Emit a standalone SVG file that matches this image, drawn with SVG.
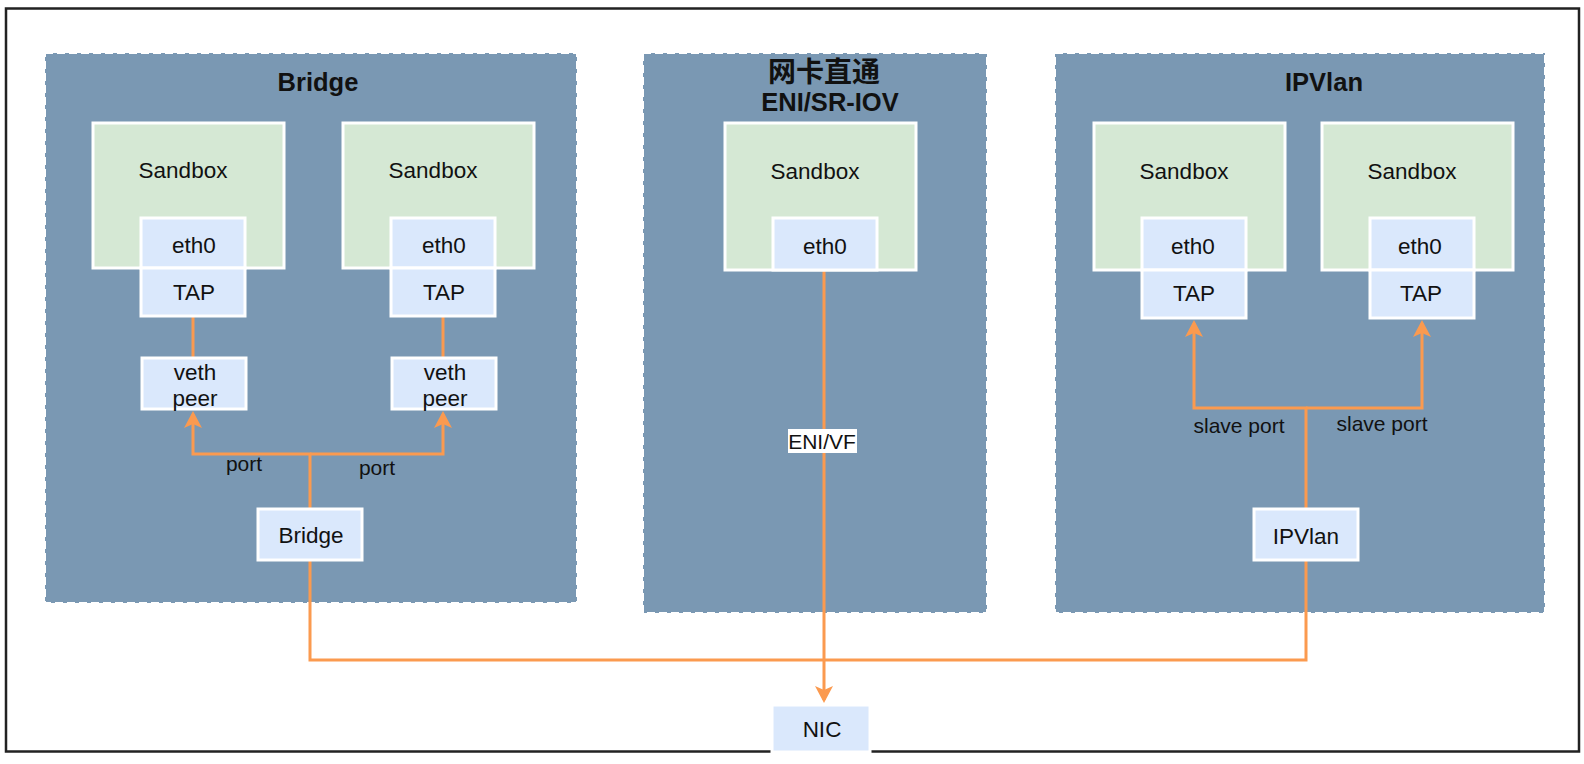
<svg xmlns="http://www.w3.org/2000/svg" width="1584" height="764" viewBox="0 0 1584 764">
<defs>
<style>
.cont{fill:#7a98b3;stroke:#ffffff;stroke-width:2;stroke-dasharray:8 4}
.sb{fill:#d5e8d4;stroke:#ffffff;stroke-width:3}
.bx{fill:#dae8fc;stroke:#ffffff;stroke-width:3}
.t{font-family:"Liberation Sans",Arial,sans-serif;font-size:22.5px;fill:#111;text-anchor:middle;dominant-baseline:central}
.tt{font-family:"Liberation Sans","Noto Sans CJK SC",sans-serif;font-size:25.5px;font-weight:bold;fill:#111;text-anchor:middle;dominant-baseline:central}
.lb{font-family:"Liberation Sans",Arial,sans-serif;font-size:21px;fill:#111;text-anchor:middle;dominant-baseline:central}
.ln{fill:none;stroke:#fb9a4f;stroke-width:3}
</style>
<marker id="ah" viewBox="0 0 18 18" refX="14" refY="9" markerWidth="18" markerHeight="18" orient="auto" markerUnits="userSpaceOnUse">
<path d="M0,0 L17,9 L0,18 L4,9 Z" fill="#fb9a4f"/>
</marker>
</defs>
<rect x="0" y="0" width="1584" height="764" fill="#ffffff"/>
<rect x="6" y="8.5" width="1573" height="743" fill="none" stroke="#222" stroke-width="2.5"/>

<g id="bridge-group">
<rect class="cont" x="45" y="53" width="532" height="550"/>
<text class="tt" x="318" y="82">Bridge</text>
</g>
<g id="eni-group">
<rect class="cont" x="643" y="53" width="344" height="560"/>
<text class="tt" x="824" y="72" style="font-size:28px">网卡直通</text>
<text class="tt" x="830" y="102">ENI/SR-IOV</text>
</g>
<g id="ipvlan-group">
<rect class="cont" x="1055" y="53" width="490" height="560"/>
<text class="tt" x="1324" y="82">IPVlan</text>
</g>

<g id="connectors">
<line class="ln" x1="193" y1="316" x2="193" y2="358"/>
<line class="ln" x1="443" y1="316" x2="443" y2="358"/>
<polyline class="ln" points="310,509 310,454 193,454 193,414" marker-end="url(#ah)"/>
<polyline class="ln" points="310,454 443,454 443,414" marker-end="url(#ah)"/>
<polyline class="ln" points="310,560 310,660 1306,660 1306,560"/>
<line class="ln" x1="824" y1="270" x2="824" y2="700" marker-end="url(#ah)"/>
<polyline class="ln" points="1306,509 1306,408 1194,408 1194,323" marker-end="url(#ah)"/>
<polyline class="ln" points="1306,408 1422,408 1422,323" marker-end="url(#ah)"/>
<text class="lb" x="244" y="463">port</text>
<text class="lb" x="377" y="467">port</text>
<rect x="788" y="429" width="69" height="24" fill="#ffffff"/>
<text class="lb" x="822" y="441">ENI/VF</text>
<text class="lb" x="1239" y="425">slave port</text>
<text class="lb" x="1382" y="423">slave port</text>
</g>

<g id="b-sandbox1">
<rect class="sb" x="93" y="123" width="191" height="145"/>
<text class="t" x="183" y="170">Sandbox</text>
</g>
<g id="b-eth0-1"><rect class="bx" x="141" y="218" width="104" height="50"/><text class="t" x="194" y="245">eth0</text></g>
<g id="b-tap-1"><rect class="bx" x="141" y="268" width="104" height="48"/><text class="t" x="194" y="292">TAP</text></g>
<g id="b-sandbox2">
<rect class="sb" x="343" y="123" width="191" height="145"/>
<text class="t" x="433" y="170">Sandbox</text>
</g>
<g id="b-eth0-2"><rect class="bx" x="391" y="218" width="104" height="50"/><text class="t" x="444" y="245">eth0</text></g>
<g id="b-tap-2"><rect class="bx" x="391" y="268" width="104" height="48"/><text class="t" x="444" y="292">TAP</text></g>
<g id="veth1"><rect class="bx" x="142" y="358" width="104" height="51"/><text class="t" x="195" y="372">veth</text><text class="t" x="195" y="398">peer</text></g>
<g id="veth2"><rect class="bx" x="392" y="358" width="104" height="51"/><text class="t" x="445" y="372">veth</text><text class="t" x="445" y="398">peer</text></g>
<g id="bridge-node"><rect class="bx" x="258" y="509" width="104" height="51"/><text class="t" x="311" y="535">Bridge</text></g>

<g id="e-sandbox">
<rect class="sb" x="725" y="123" width="191" height="147"/>
<text class="t" x="815" y="171">Sandbox</text>
</g>
<g id="e-eth0"><rect class="bx" x="773" y="218" width="104" height="52"/><text class="t" x="825" y="246">eth0</text></g>

<g id="i-sandbox1">
<rect class="sb" x="1094" y="123" width="191" height="147"/>
<text class="t" x="1184" y="171">Sandbox</text>
</g>
<g id="i-eth0-1"><rect class="bx" x="1142" y="218" width="104" height="52"/><text class="t" x="1193" y="246">eth0</text></g>
<g id="i-tap-1"><rect class="bx" x="1142" y="270" width="104" height="48"/><text class="t" x="1194" y="293">TAP</text></g>
<g id="i-sandbox2">
<rect class="sb" x="1322" y="123" width="191" height="147"/>
<text class="t" x="1412" y="171">Sandbox</text>
</g>
<g id="i-eth0-2"><rect class="bx" x="1370" y="218" width="104" height="52"/><text class="t" x="1420" y="246">eth0</text></g>
<g id="i-tap-2"><rect class="bx" x="1370" y="270" width="104" height="48"/><text class="t" x="1421" y="293">TAP</text></g>
<g id="ipvlan-node"><rect class="bx" x="1254" y="509" width="104" height="51"/><text class="t" x="1306" y="536">IPVlan</text></g>

<g id="nic"><rect class="bx" x="772" y="705" width="98" height="47" stroke-width="2"/><text class="t" x="822" y="729">NIC</text></g>
</svg>
